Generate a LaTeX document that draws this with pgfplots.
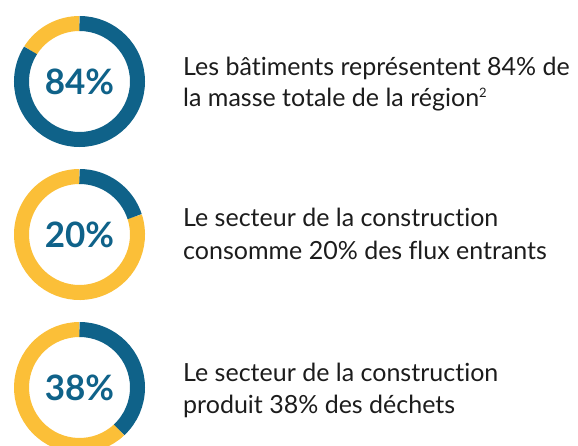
\documentclass[border=0pt]{standalone}
\usepackage{fontspec}
\setmainfont{Lato}[Ligatures=NoCommon]
\usepackage{pgfplots}
\usepackage{pgfplotstable}
\pgfplotsset{compat=1.18}

\definecolor{ringblue}{HTML}{0F6289}
\definecolor{ringyellow}{HTML}{FBBF38}
\definecolor{bodyink}{HTML}{1C1C1C}

% one row per donut: centre (in px, y downwards) and share in percent
\pgfplotstableread{
x     y      p
79.5  81.5   84
79.5  234.5  20
79.5  387.5  38
}\donuts

% ring mark: blue share clockwise from 12 o'clock, yellow for the rest
\pgfdeclareplotmark{donut}{%
  \pgfmathsetmacro\endang{90-3.6*\pct}%
  \pgfsetlinewidth{15pt}\pgfsetbuttcap
  \pgfsetstrokecolor{ringyellow}%
  \pgfpathmoveto{\pgfpointpolar{\endang}{58pt}}%
  \pgfpatharc{\endang}{-270}{58pt}%
  \pgfusepath{stroke}%
  \pgfsetstrokecolor{ringblue}%
  \pgfpathmoveto{\pgfpointpolar{90}{58pt}}%
  \pgfpatharc{90}{\endang}{58pt}%
  \pgfusepath{stroke}%
}

\begin{document}
\begin{tikzpicture}
\begin{axis}[
  width=578pt, height=446pt, scale only axis,
  xmin=0, xmax=578, ymin=0, ymax=446, y dir=reverse,
  hide axis, clip=false,
]
\addplot[only marks, mark=donut,
  visualization depends on={\thisrow{p}\as\pct},
  nodes near coords={\pgfmathtruncatemacro\pv{\pct}\pv\%},
  nodes near coords align={center},
  every node near coord/.append style={anchor=center, inner sep=0pt,
    font=\fontsize{35}{35}\selectfont\bfseries, text=ringblue},
] table[x=x, y=y] {\donuts};

\tikzset{txt/.style={anchor=base west, inner sep=0pt, text=bodyink, font=\fontsize{25}{25}\selectfont}}
\node[txt] at (axis cs:183,76)  {Les bâtiments représentent 84\% de};
\node[txt] at (axis cs:183,107) {la masse totale de la région\raisebox{9pt}{\fontsize{13}{13}\selectfont 2}};
\node[txt] at (axis cs:183,227) {Le secteur de la construction};
\node[txt] at (axis cs:183,260) {consomme 20\% des flux entrants};
\node[txt] at (axis cs:183,381) {Le secteur de la construction};
\node[txt] at (axis cs:183,413) {produit 38\% des déchets};
\end{axis}
\pgfresetboundingbox
\useasboundingbox (0,0) rectangle (578pt,446pt);
\end{tikzpicture}
\end{document}
